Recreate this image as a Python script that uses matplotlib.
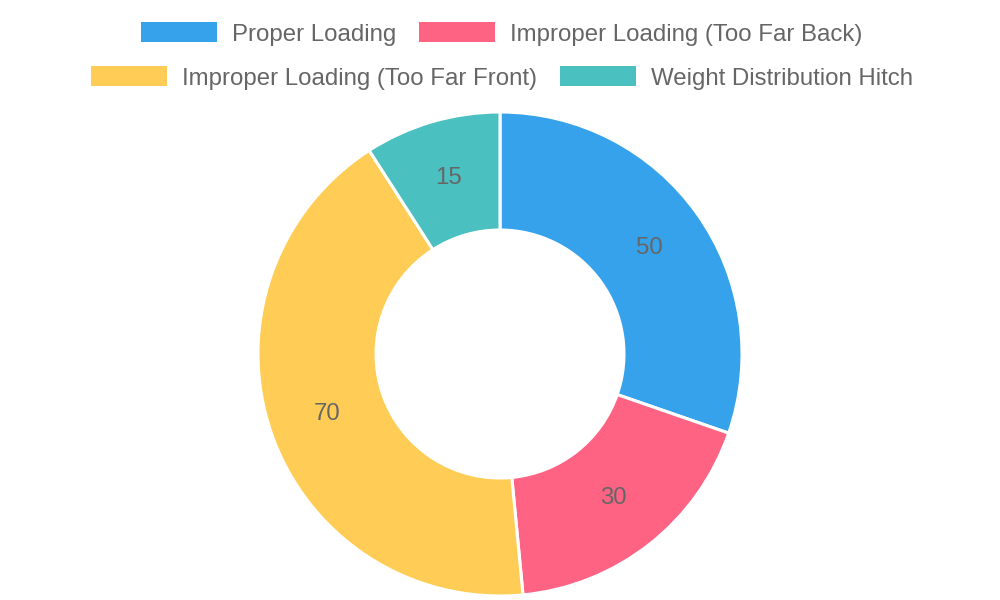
import matplotlib
matplotlib.use("Agg")
import matplotlib.pyplot as plt
from matplotlib.patches import Rectangle
import numpy as np

categories = ["Proper Loading", "Improper Loading (Too Far Back)",
              "Improper Loading (Too Far Front)", "Weight Distribution Hitch"]
values = [50, 30, 70, 15]
colors = ["#36A2EB", "#FF6384", "#FFCD56", "#4BC0C0"]
legend_rows = [[0, 1], [2, 3]]

W, H, DPI = 1000, 600, 100
fig = plt.figure(figsize=(W / DPI, H / DPI), dpi=DPI)
plt.rcParams['font.family'] = ['Liberation Sans', 'DejaVu Sans']

cx, cy, R = 500, 354, 242
inner = 124 / R
ax = fig.add_axes([(cx - R) / W, (H - cy - R) / H, 2 * R / W, 2 * R / H])

wedges, _ = ax.pie(values, colors=colors, startangle=90, counterclock=False,
                   radius=1, wedgeprops=dict(width=1 - inner, edgecolor='white',
                                             linewidth=2.2))
ax.set_xlim(-1, 1)
ax.set_ylim(-1, 1)
ax.set_aspect('equal')
ax.axis('off')

rmid = (1 + inner) / 2
for w, v in zip(wedges, values):
    ang = np.deg2rad((w.theta1 + w.theta2) / 2)
    ax.text(rmid * np.cos(ang), rmid * np.sin(ang), str(v), ha='center',
            va='center', fontsize=17.3, color='#666666')

# Legend (manual, Chart.js style rows centered)
fs = 17.3
box_w, box_h, gap_t, gap_i = 76, 20, 15, 23
row_y = [32, 76]
renderer = fig.canvas.get_renderer()
for ri, row in enumerate(legend_rows):
    widths = []
    for i in row:
        t = fig.text(0, 0, categories[i], fontsize=fs)
        bb = t.get_window_extent(renderer=renderer)
        widths.append(bb.width)
        t.remove()
    total = sum(box_w + gap_t + w for w in widths) + gap_i * (len(row) - 1)
    x = W / 2 - total / 2 + 2
    y = row_y[ri]
    for i, w in zip(row, widths):
        fig.patches.append(Rectangle((x / W, (H - y - box_h / 2) / H), box_w / W, box_h / H,
                                     transform=fig.transFigure, facecolor=colors[i],
                                     edgecolor='none'))
        fig.text((x + box_w + gap_t) / W, (H - y) / H, categories[i], fontsize=fs,
                 color='#666666', va='center_baseline', ha='left')
        x += box_w + gap_t + w + gap_i

fig.savefig("out.png", dpi=DPI, facecolor='white')
